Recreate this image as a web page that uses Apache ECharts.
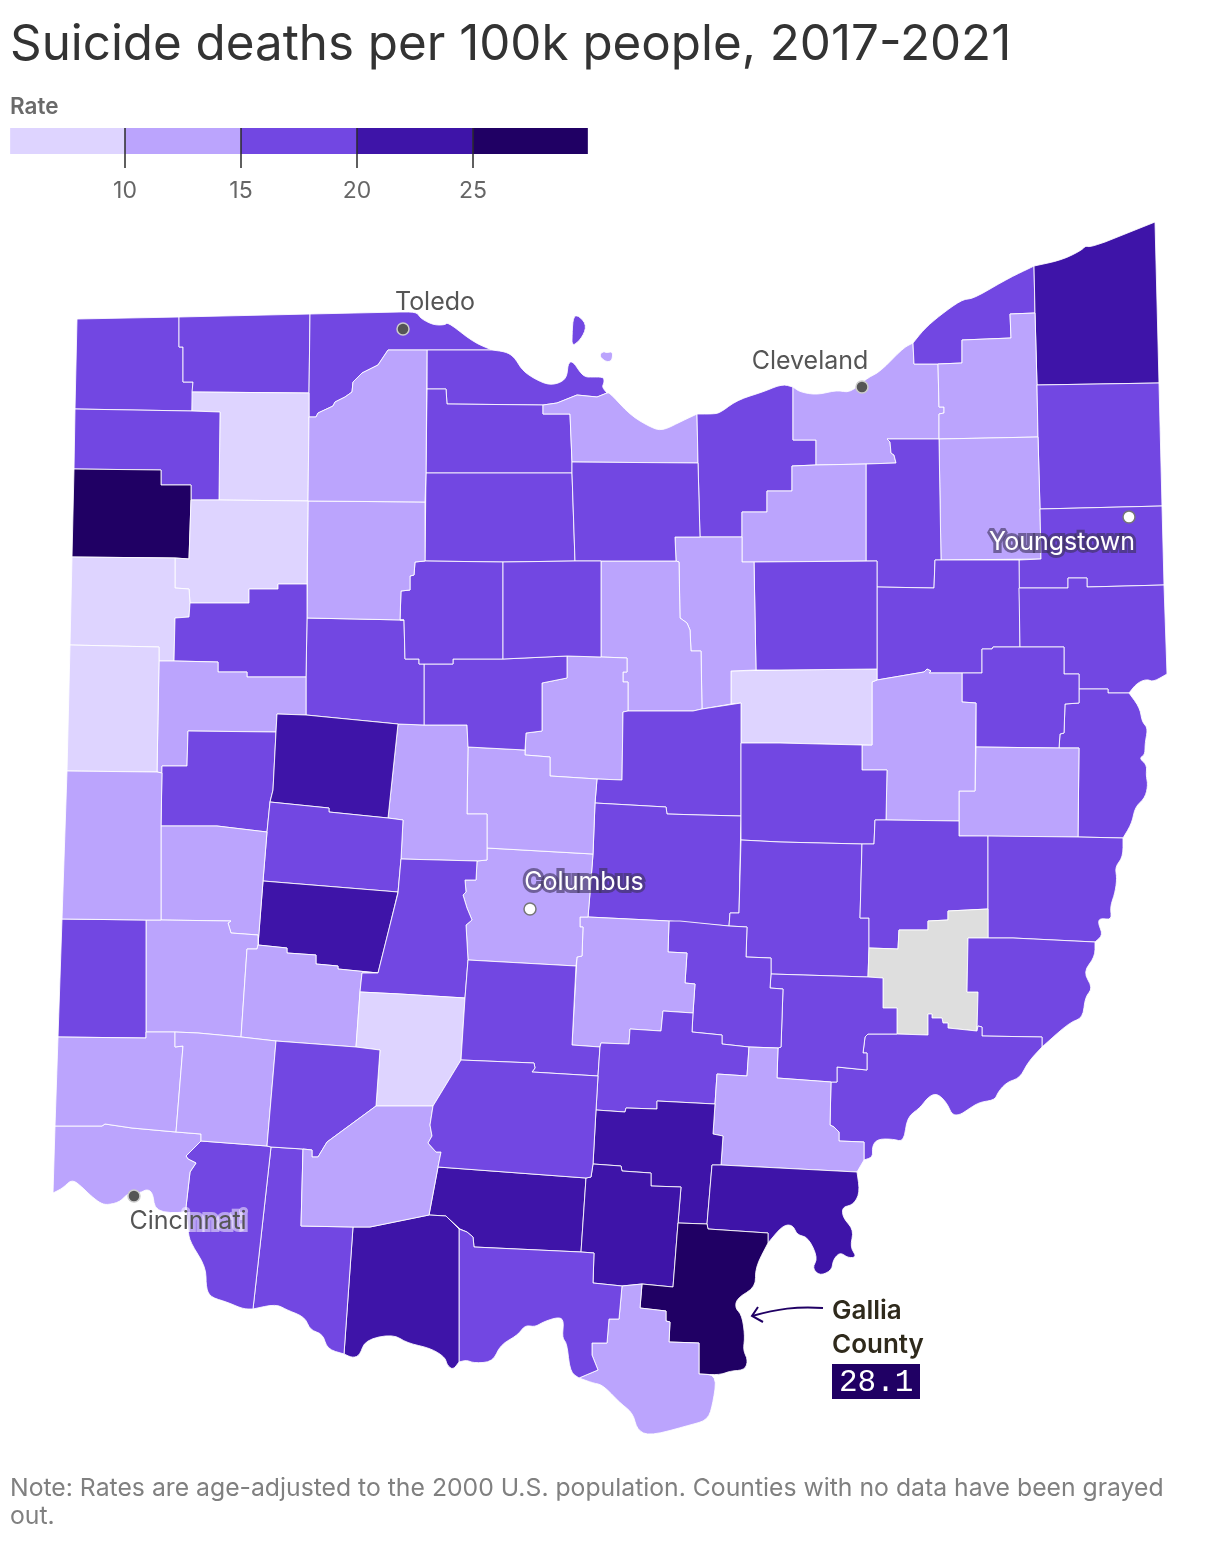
<!DOCTYPE html>
<html>
<head>
<meta charset="utf-8">
<title>Suicide deaths per 100k people, 2017-2021</title>
<script src="https://cdn.jsdelivr.net/npm/echarts@6/dist/echarts.min.js"></script>
<style>
  html, body { margin: 0; padding: 0; background: #fff; }
  #chart { width: 1220px; height: 1552px; }
</style>
</head>
<body>
<div id="chart"></div>
<script>
// rates by county, read off the colour bins (Noble has no data)
const countyNames = [
  'Williams', 'Fulton', 'Lucas', 'Ottawa', 'Sandusky', 'Erie', 'Lorain', 'Cuyahoga', 'Lake', 'Ashtabula',
  'Geauga', 'Trumbull', 'Portage', 'Mahoning', 'Summit', 'Medina', 'Stark', 'Columbiana', 'Jefferson', 'Carroll',
  'Harrison', 'Tuscarawas', 'Holmes', 'Wayne', 'Ashland', 'Richland', 'Morrow', 'Knox', 'Licking', 'Coshocton',
  'Muskingum', 'Guernsey', 'Belmont', 'Noble', 'Monroe', 'Washington', 'Morgan', 'Perry', 'Fairfield', 'Franklin',
  'Delaware', 'Union', 'Marion', 'Hardin', 'Seneca', 'Huron', 'Wyandot', 'Crawford', 'Hancock', 'Henry',
  'Defiance', 'Paulding', 'Putnam', 'Van Wert', 'Allen', 'Auglaize', 'Mercer', 'Shelby', 'Logan', 'Champaign',
  'Clark', 'Miami', 'Montgomery', 'Preble', 'Darke', 'Greene', 'Madison', 'Fayette', 'Pickaway', 'Hocking',
  'Athens', 'Vinton', 'Pike', 'Jackson', 'Meigs', 'Gallia', 'Lawrence', 'Scioto', 'Adams', 'Brown',
  'Clermont', 'Hamilton', 'Butler', 'Warren', 'Clinton', 'Highland', 'Wood', 'Ross'
];
const countyRates = [
  17, 17, 17, 17, 17, 13, 17, 13, 17, 22,
  13, 17, 13, 17, 17, 13, 17, 17, 17, 17,
  13, 13, 8, 17, 13, 13, 13, 17, 17, 17,
  17, 17, 17, null, 17, 17, 17, 17, 13, 13,
  13, 13, 17, 17, 17, 17, 17, 17, 13, 8,
  17, 27, 8, 8, 17, 13, 8, 17, 22, 17,
  22, 13, 13, 17, 13, 13, 17, 8, 17, 17,
  13, 22, 22, 22, 22, 28.1, 13, 17, 22, 17,
  17, 13, 13, 13, 17, 13, 13, 17
];

// county outlines (x,y in page pixels)
const countyShapes = {
  Williams: ['77,319 179,317 179,347 183,347 183,382 193,382 192,411 75,409'],
  Fulton: ['179,317 310,314 309,393 192,392 193,382 183,382 183,347 179,347'],
  Lucas: ['310,314 400,312 417,312 420,318 433,325 445,325 448,322 473,342 492,350 427,350 388,350 378,365 362,373 353,382 352,392 345,397 335,402 333,406 318,413 316,417 309,417 309,393'],
  Wood: ['309,417 316,417 318,413 333,406 335,402 345,397 352,392 353,382 362,373 378,365 388,350 427,350 426,473 425,502 308,501'],
  Ottawa: [
    '427,350 492,350 507,352 515,358 522,370 533,378 548,385 560,383 567,377 568,363 573,361 583,377 593,377 604,377 604,383 602,387 607,393 597,397 577,395 557,403 543,405 447,404 446,389 427,389',
    '573,317 578,315 587,325 582,338 572,347 572,337'
  ],
  Sandusky: ['427,389 446,389 447,404 543,405 543,414 570,414 572,462 572,473 426,473'],
  Erie: [
    '543,405 557,403 577,395 597,397 607,393 610,393 630,415 650,427 662,431 680,422 697,414 698,463 572,462 570,414 543,414',
    '599,356 603,351 607,353 613,351 612,361 606,362'
  ],
  Lorain: ['697,414 712,414 720,413 737,400 763,392 782,384 793,387 793,440 816,440 816,465 792,466 792,491 767,491 767,512 742,512 742,537 700,537 698,463'],
  Cuyahoga: ['793,387 800,392 817,395 837,390 850,393 867,378 880,372 903,348 913,343 914,364 938,364 939,407 944,407 944,413 939,414 939,439 887,439 890,442 891,453 894,455 896,463 866,464 816,465 816,440 793,440'],
  Lake: ['913,343 925,328 943,313 963,299 973,299 1007,279 1030,268 1034,266 1035,313 1010,314 1011,338 962,340 962,363 938,364 914,364'],
  Ashtabula: ['1034,266 1062,260 1082,250 1085,246 1090,247 1105,242 1155,222 1159,383 1037,385 1035,313'],
  Geauga: ['1010,314 1035,313 1037,385 1038,437 939,439 939,414 944,413 944,407 939,407 938,364 962,363 962,340 1011,338'],
  Trumbull: ['1037,385 1159,383 1162,506 1040,509 1038,437'],
  Portage: ['1038,437 1040,509 1041,559 941,560 939,439'],
  Mahoning: ['1040,509 1162,506 1164,585 1087,587 1087,578 1068,578 1068,588 1019,588 1019,560 1041,559'],
  Summit: ['887,439 939,439 941,560 935,560 934,588 877,587 877,561 866,561 866,464 896,463 894,455 891,453 890,442'],
  Medina: ['816,465 866,464 866,561 754,562 742,562 742,512 767,512 767,491 792,491 792,466'],
  Stark: ['877,587 934,588 935,560 1019,560 1020,647 993,647 992,649 982,649 982,673 962,673 929,673 931,671 927,669 924,672 877,680'],
  Columbiana: ['1019,588 1068,588 1068,578 1087,578 1087,587 1164,585 1167,674 1153,682 1147,679 1137,683 1129,693 1108,693 1108,689 1079,689 1079,674 1064,674 1064,647 1020,647'],
  Jefferson: ['1079,689 1108,689 1108,693 1129,693 1140,708 1142,722 1148,728 1145,743 1145,755 1139,758 1147,765 1146,775 1148,785 1145,798 1135,807 1132,823 1123,838 1078,837 1079,748 1059,748 1060,734 1064,733 1065,704 1079,703'],
  Carroll: ['982,649 992,649 993,647 1064,647 1064,674 1079,674 1079,703 1065,704 1064,733 1060,734 1059,748 976,747 976,703 962,702 962,673 982,673'],
  Harrison: ['976,747 1059,748 1079,748 1078,837 959,836 959,791 975,791'],
  Tuscarawas: ['872,682 877,680 924,672 927,669 931,671 929,673 962,673 962,702 976,703 975,791 959,791 959,821 886,820 887,770 862,770 862,745 872,745'],
  Holmes: ['731,671 780,670 877,669 877,680 872,682 872,745 780,743 741,743 741,703 731,704'],
  Wayne: ['754,562 877,561 877,669 780,670 756,670'],
  Ashland: ['675,537 742,537 742,562 754,562 756,670 731,671 731,704 702,709 701,651 691,651 690,630 687,623 680,618 679,562 676,561'],
  Richland: ['601,561 676,561 679,562 680,618 687,623 690,630 691,651 701,651 702,709 693,711 628,711 628,682 623,682 623,672 627,672 627,658 601,657'],
  Morrow: ['567,656 601,657 627,658 627,672 623,672 623,682 628,682 628,711 623,712 622,780 597,779 550,776 550,757 525,755 526,733 542,731 542,683 567,678'],
  Knox: ['623,712 628,711 693,711 702,709 741,703 741,743 741,816 700,815 667,814 666,807 595,803 597,779 622,780'],
  Licking: ['595,803 666,807 667,814 700,815 741,816 739,913 730,913 729,926 681,922 680,921 669,921 588,917 590,893 593,854'],
  Coshocton: ['741,743 780,743 862,745 862,770 887,770 886,820 875,820 874,844 862,844 780,842 741,840 741,816'],
  Muskingum: ['741,840 780,842 862,844 860,918 869,918 869,948 868,977 771,974 771,958 746,957 747,927 729,926 730,913 739,913'],
  Guernsey: ['875,820 886,820 959,821 959,836 988,836 988,909 948,911 948,920 928,921 928,930 899,930 898,949 869,948 869,918 860,918 862,844 874,844'],
  Belmont: ['988,836 1078,837 1123,838 1123,857 1115,867 1117,878 1115,893 1110,907 1112,920 1100,918 1098,923 1103,935 1095,942 1013,938 988,938'],
  Noble: ['869,948 898,949 899,930 928,930 928,921 948,920 948,911 988,909 988,938 968,938 967,992 978,992 977,1031 948,1028 948,1023 943,1023 942,1018 932,1018 932,1014 928,1014 928,1035 897,1034 897,1008 883,1008 883,978 868,977'],
  Monroe: ['968,938 988,938 1013,938 1095,942 1095,957 1083,972 1093,988 1085,997 1083,1018 1070,1022 1042,1047 1042,1037 982,1036 982,1027 978,1026 977,1031 978,992 967,992'],
  Washington: ['868,1034 897,1034 928,1035 928,1014 932,1014 932,1018 942,1018 943,1023 948,1023 948,1028 977,1031 978,1026 982,1027 982,1036 1042,1037 1042,1047 1028,1062 1020,1078 1007,1082 998,1092 995,1100 980,1102 970,1108 960,1115 952,1115 947,1103 937,1093 928,1097 920,1108 907,1117 904,1142 893,1139 877,1139 872,1147 873,1157 864,1160 864,1142 839,1141 839,1132 834,1127 830,1125 831,1082 837,1082 837,1067 867,1070 867,1053 863,1053 865,1037'],
  Morgan: ['771,974 868,977 883,978 883,1008 897,1008 897,1034 868,1034 865,1037 863,1053 867,1053 867,1070 837,1067 837,1082 831,1082 777,1078 778,1048 781,1047 783,989 770,988'],
  Perry: ['669,921 680,921 681,922 729,926 747,927 746,957 771,958 771,974 770,988 783,989 781,1047 778,1048 749,1047 722,1044 722,1035 692,1032 693,1013 695,984 685,983 687,953 668,952'],
  Fairfield: ['580,917 588,917 669,921 668,952 687,953 685,983 695,984 693,1013 663,1011 661,1031 630,1029 629,1044 601,1043 600,1047 572,1045 577,957 582,956 583,927 580,927'],
  Franklin: ['487,848 593,854 590,893 588,917 580,917 580,927 583,927 582,956 577,957 576,966 468,960 466,925 472,920 467,908 463,895 466,892 465,880 476,880 477,861 487,860'],
  Delaware: ['468,747 525,750 525,755 550,757 550,776 597,779 595,803 593,854 487,848 487,814 467,814'],
  Union: ['398,724 424,725 467,725 468,747 467,814 487,814 487,848 487,860 477,861 401,859 403,820 388,818'],
  Marion: ['424,664 453,664 453,659 503,659 567,656 567,678 542,683 542,731 526,733 525,750 468,747 467,725 424,725'],
  Hardin: ['307,618 404,620 405,659 419,659 419,664 424,664 424,725 398,724 306,715 306,677'],
  Seneca: ['426,473 572,473 575,561 503,562 425,561'],
  Huron: ['572,462 698,463 700,537 675,537 676,561 601,561 575,561 572,473'],
  Wyandot: ['415,562 425,561 503,562 503,659 453,659 453,664 419,664 419,659 405,659 404,620 400,620 401,591 410,590 410,576 414,575'],
  Crawford: ['503,562 575,561 601,561 601,657 567,656 503,659'],
  Hancock: ['308,501 425,502 425,561 415,562 414,575 410,576 410,590 401,591 400,620 404,620 307,618'],
  Henry: ['192,392 309,393 309,417 308,501 219,500 220,412 192,411'],
  Defiance: ['75,409 192,411 220,412 219,500 191,500 191,485 161,485 161,470 74,469'],
  Paulding: ['74,469 161,470 161,485 191,485 191,500 189,559 175,558 72,557'],
  Putnam: ['191,500 219,500 308,501 307,584 278,584 278,589 249,589 249,603 190,603 189,589 175,588 175,558 189,559'],
  'Van Wert': ['72,557 175,558 175,588 189,589 190,603 189,617 175,618 174,661 159,661 159,647 70,645'],
  Allen: ['175,618 189,617 190,603 249,603 249,589 278,589 278,584 307,584 307,618 306,677 247,677 247,672 218,672 218,662 174,661'],
  Auglaize: ['159,661 174,661 218,662 218,672 247,672 247,677 306,677 306,715 277,714 276,732 188,731 187,766 162,766 162,773 157,772'],
  Mercer: ['70,645 159,647 159,661 157,772 67,771'],
  Shelby: ['188,731 276,732 273,790 270,802 267,832 217,826 161,826 162,766 187,766'],
  Logan: ['277,714 306,715 398,724 388,818 329,812 329,808 270,802 273,790 276,732'],
  Champaign: ['270,802 329,808 329,812 388,818 403,820 401,859 398,892 263,881 267,832'],
  Clark: ['263,881 398,892 398,893 390,925 378,973 338,969 338,966 316,964 316,955 287,953 287,948 258,945'],
  Miami: ['161,826 217,826 267,832 263,881 258,945 258,935 231,933 228,923 231,921 161,920'],
  Montgomery: ['146,920 161,920 231,921 228,923 231,933 258,935 258,945 257,949 247,949 241,1037 198,1033 175,1032 146,1032'],
  Preble: ['62,919 146,920 146,1032 146,1038 58,1037'],
  Darke: ['67,771 157,772 162,773 161,826 161,920 146,920 62,919'],
  Greene: ['258,945 287,948 287,953 316,955 316,964 338,966 338,969 378,973 362,973 360,992 356,1047 276,1041 241,1037 247,949 257,949'],
  Madison: ['398,893 401,859 477,861 476,880 465,880 466,892 463,895 467,908 472,920 466,925 468,960 465,998 400,994 360,992 362,973 378,973 390,925'],
  Fayette: ['360,992 400,994 465,998 461,1060 433,1106 376,1106 380,1050 356,1047'],
  Pickaway: ['468,960 576,966 572,1045 600,1047 598,1076 532,1072 535,1068 534,1063 461,1060 465,998'],
  Hocking: ['600,1047 601,1043 629,1044 630,1029 661,1031 663,1011 693,1013 692,1032 722,1035 722,1044 749,1047 747,1076 717,1074 715,1104 657,1101 657,1109 626,1108 625,1112 596,1110 598,1076'],
  Athens: ['749,1047 778,1048 777,1078 831,1082 830,1125 834,1127 839,1132 839,1141 864,1142 864,1160 857,1172 721,1165 723,1136 713,1134 715,1104 717,1074 747,1076'],
  Vinton: ['596,1110 625,1112 626,1108 657,1109 657,1101 715,1104 713,1134 723,1136 721,1165 712,1165 707,1224 678,1223 681,1187 651,1186 651,1173 622,1171 621,1166 593,1164'],
  Pike: ['438,1167 586,1178 581,1252 474,1247 473,1237 467,1232 460,1229 448,1218 446,1216 429,1215'],
  Jackson: ['593,1164 621,1166 622,1171 651,1173 651,1186 681,1187 678,1223 673,1287 642,1284 622,1286 593,1283 594,1253 581,1252 586,1178 591,1177'],
  Meigs: ['712,1165 721,1165 857,1172 860,1193 853,1205 842,1207 843,1218 854,1230 850,1247 857,1257 848,1258 840,1252 833,1260 832,1270 820,1276 812,1268 818,1258 808,1237 797,1235 793,1225 783,1225 768,1243 768,1233 708,1229 707,1224'],
  Gallia: ['678,1223 707,1224 708,1229 768,1233 768,1243 755,1268 756,1287 737,1298 735,1308 742,1315 745,1337 743,1350 748,1360 745,1370 730,1371 720,1375 699,1374 699,1343 669,1342 670,1322 666,1321 666,1311 640,1308 642,1284 673,1287'],
  Lawrence: ['622,1286 642,1284 640,1308 666,1311 666,1321 670,1322 669,1342 699,1343 699,1374 717,1375 713,1403 708,1420 690,1425 650,1436 637,1430 633,1413 620,1403 603,1385 593,1383 579,1378 598,1370 592,1355 592,1343 607,1343 609,1319 619,1319'],
  Scioto: ['459,1229 467,1232 473,1237 474,1247 581,1252 594,1253 593,1283 622,1286 619,1319 609,1319 607,1343 592,1343 592,1355 598,1370 579,1378 570,1372 567,1343 562,1338 564,1320 558,1317 543,1322 535,1327 525,1325 518,1335 500,1345 493,1362 473,1363 467,1360 459,1362'],
  Adams: ['353,1227 370,1227 429,1215 446,1216 448,1218 459,1229 459,1362 453,1370 447,1365 445,1357 430,1348 407,1343 393,1334 365,1340 360,1355 353,1358 344,1354'],
  Brown: ['271,1147 303,1149 301,1226 353,1227 344,1354 327,1349 323,1334 310,1330 305,1317 287,1310 276,1304 253,1309'],
  Clermont: ['201,1141 267,1146 271,1147 253,1309 243,1309 227,1302 210,1297 206,1287 206,1267 190,1242 188,1230 186,1207 190,1172 196,1163 188,1159 186,1156'],
  Hamilton: ['55,1126 102,1126 105,1124 132,1128 176,1132 201,1134 201,1141 186,1156 188,1159 196,1163 190,1172 186,1207 186,1213 155,1212 153,1193 147,1189 140,1193 128,1193 120,1202 107,1205 100,1203 90,1195 82,1187 72,1179 63,1188 53,1193'],
  Butler: ['58,1037 146,1038 146,1032 175,1032 175,1047 183,1046 176,1132 132,1128 105,1124 102,1126 55,1126'],
  Warren: ['175,1032 198,1033 241,1037 276,1041 267,1146 201,1141 201,1134 176,1132 183,1046 175,1047'],
  Clinton: ['276,1041 356,1047 380,1050 376,1106 327,1142 318,1157 312,1157 312,1150 303,1149 271,1147 267,1146'],
  Highland: ['376,1106 433,1106 430,1125 432,1136 428,1143 436,1152 441,1152 438,1167 429,1215 370,1227 353,1227 301,1226 303,1149 312,1150 312,1157 318,1157 327,1142'],
  Ross: ['461,1060 534,1063 535,1068 532,1072 598,1076 596,1110 593,1164 591,1177 586,1178 438,1167 441,1152 436,1152 428,1143 432,1136 430,1125 433,1106']
};

// counties on the lake or the river: their open shoreline gets rounded below
const shoreCounties = [
  'Lucas', 'Ottawa', 'Erie', 'Lorain', 'Cuyahoga', 'Lake', 'Ashtabula', 'Columbiana', 'Jefferson', 'Belmont',
  'Monroe', 'Washington', 'Athens', 'Meigs', 'Gallia', 'Lawrence', 'Scioto', 'Adams', 'Brown', 'Clermont', 'Hamilton'
];

const cityNames = ['Toledo', 'Cleveland', 'Youngstown', 'Columbus', 'Cincinnati'];
const cityCoords = [[403, 329], [862, 387], [1129, 517], [530, 909], [134, 1196]];

// colour key
const rateBins = [10, 15, 20, 25];
const rampStops = [5.05, 10, 15, 20, 25, 29.95];
const rampColors = ['#ded4ff', '#bba4fd', '#7247e2', '#3e14a8', '#200064'];

function ringToCoords(ring) {
  return ring.split(' ').map(function (pair) {
    return pair.split(',').map(Number);
  });
}

// how many outlines each vertex is used in; a vertex used once is not on a county border
const vertexUse = {};
countyNames.forEach(function (name) {
  countyShapes[name].forEach(function (ring) {
    ring.split(' ').forEach(function (key) { vertexUse[key] = (vertexUse[key] || 0) + 1; });
  });
});

function edgeLength(a, b) {
  return Math.hypot(a[0] - b[0], a[1] - b[1]);
}

// round the unshared short-edged vertices with a quadratic curve between edge midpoints
function roundShore(points) {
  const out = [];
  const n = points.length;
  points.forEach(function (p, i) {
    const prev = points[(i + n - 1) % n];
    const next = points[(i + 1) % n];
    const open = vertexUse[p.join(',')] === 1 && edgeLength(p, prev) < 45 && edgeLength(p, next) < 45;
    if (!open) {
      out.push(p);
      return;
    }
    const m0 = [(prev[0] + p[0]) / 2, (prev[1] + p[1]) / 2];
    const m1 = [(next[0] + p[0]) / 2, (next[1] + p[1]) / 2];
    for (let t = 0; t <= 1; t += 0.25) {
      out.push([
        (1 - t) * (1 - t) * m0[0] + 2 * t * (1 - t) * p[0] + t * t * m1[0],
        (1 - t) * (1 - t) * m0[1] + 2 * t * (1 - t) * p[1] + t * t * m1[1]
      ]);
    }
  });
  out.push(out[0]);
  return out;
}

const features = countyNames.map(function (name) {
  const isShore = shoreCounties.indexOf(name) >= 0;
  return {
    type: 'Feature',
    properties: { name: name },
    geometry: {
      type: 'MultiPolygon',
      coordinates: countyShapes[name].map(function (ring) {
        const points = ringToCoords(ring);
        return [isShore ? roundShore(points) : points];
      })
    }
  };
});
echarts.registerMap('ohio', { type: 'FeatureCollection', features: features });

const chart = echarts.init(document.getElementById('chart'), null, { renderer: 'canvas' });
const fontFamily = 'Inter, "Noto Sans", sans-serif';
const pagePixels = { project: function (p) { return p; }, unproject: function (p) { return p; } };

// label placement relative to each city's dot
const cityLabels = {
  Toledo: { offset: [32, -27], color: '#555555' },
  Cleveland: { offset: [-52, -26], color: '#555555' },
  Youngstown: { offset: [-67, 25], color: '#ffffff', textBorderColor: 'rgba(60,50,90,0.6)', textBorderWidth: 6 },
  Columbus: { offset: [54, -27], color: '#ffffff', textBorderColor: 'rgba(60,50,90,0.6)', textBorderWidth: 6 },
  Cincinnati: { offset: [54, 25], color: '#555555', textBorderColor: 'rgba(255,255,255,0.5)', textBorderWidth: 6 }
};
const lightDots = ['Youngstown', 'Columbus'];

const galliaRate = countyRates[countyNames.indexOf('Gallia')];

chart.setOption({
  animation: false,
  title: [
    {
      text: 'Suicide deaths per 100k people, 2017-2021',
      left: 10, top: 21, padding: 0,
      textStyle: { fontFamily: fontFamily, fontSize: 49.3, fontWeight: 400, color: '#333333' }
    },
    {
      text: 'Rate',
      left: 10, top: 96, padding: 0,
      textStyle: { fontFamily: fontFamily, fontSize: 22.5, fontWeight: 600, color: '#6a6a6a' }
    },
    {
      text: 'Note: Rates are age-adjusted to the 2000 U.S. population. Counties with no data have been grayed\nout.',
      left: 10, top: 1475, padding: 0,
      textStyle: { fontFamily: fontFamily, fontSize: 24.75, fontWeight: 400, color: '#808080', lineHeight: 28 }
    }
  ],
  grid: { left: 9, width: 580, top: 128, height: 40 },
  xAxis: {
    type: 'value', min: 5, max: 30, interval: 5, z: 10, position: 'bottom',
    splitLine: { show: false },
    axisLine: { show: false, onZero: false },
    axisTick: { show: true, inside: true, length: 40, customValues: rateBins, lineStyle: { color: '#2b2b2b', width: 1.5 } },
    axisLabel: { margin: 12, customValues: rateBins, fontFamily: fontFamily, fontSize: 23, color: '#666666' }
  },
  yAxis: { type: 'value', min: 0, max: 40, inverse: true, show: false },
  geo: {
    map: 'ohio',
    projection: pagePixels,
    boundingCoords: [[0, 0], [1220, 1552]],
    left: 0, top: 0, width: 1220, height: 1552,
    roam: false,
    silent: true,
    label: { show: false },
    itemStyle: { areaColor: '#dedede', borderColor: 'rgba(255,255,255,0.85)', borderWidth: 1 },
    emphasis: { disabled: true },
    select: { disabled: true }
  },
  visualMap: {
    type: 'piecewise',
    show: false,
    seriesIndex: 0,
    pieces: [
      { lt: 10, color: rampColors[0] },
      { gte: 10, lt: 15, color: rampColors[1] },
      { gte: 15, lt: 20, color: rampColors[2] },
      { gte: 20, lt: 25, color: rampColors[3] },
      { gte: 25, color: rampColors[4] }
    ]
  },
  series: [
    {
      type: 'map',
      geoIndex: 0,
      silent: true,
      data: countyNames.map(function (name, i) { return { name: name, value: countyRates[i] }; })
    },
    {
      type: 'scatter',
      coordinateSystem: 'geo',
      geoIndex: 0,
      silent: true,
      symbolSize: 12,
      z: 5,
      data: cityNames.map(function (name, i) {
        const l = cityLabels[name];
        const lightDot = lightDots.indexOf(name) >= 0;
        return {
          name: name,
          value: cityCoords[i],
          itemStyle: {
            opacity: 1,
            color: lightDot ? '#ffffff' : '#555555',
            borderColor: lightDot ? '#777777' : '#cccccc',
            borderWidth: 1.5
          },
          label: {
            show: true,
            position: 'inside',
            formatter: name,
            offset: l.offset,
            fontFamily: fontFamily,
            fontSize: 25,
            color: l.color,
            textBorderColor: l.textBorderColor || 'transparent',
            textBorderWidth: l.textBorderWidth || 0
          }
        };
      })
    },
    {
      type: 'custom',
      silent: true,
      coordinateSystem: 'cartesian2d',
      data: rampColors.map(function (c, i) { return [rampStops[i], rampStops[i + 1], i]; }),
      encode: { x: [0, 1] },
      renderItem: function (params, api) {
        const a = api.coord([api.value(0), 0]);
        const b = api.coord([api.value(1), 26]);
        return {
          type: 'rect',
          shape: { x: a[0], y: a[1], width: b[0] - a[0], height: b[1] - a[1] },
          style: { fill: rampColors[api.value(2)] }
        };
      }
    }
  ],
  graphic: [
    {
      type: 'text', x: 832, y: 1298, silent: true,
      style: { text: 'Gallia', font: '600 26px ' + fontFamily, fill: '#2f2a1c' }
    },
    {
      type: 'text', x: 832, y: 1332, silent: true,
      style: { text: 'County', font: '600 26px ' + fontFamily, fill: '#2f2a1c' }
    },
    {
      type: 'rect', silent: true,
      shape: { x: 832, y: 1364, width: 88, height: 35 },
      style: { fill: '#200064' }
    },
    {
      type: 'text', x: 839, y: 1367, silent: true, z: 10,
      style: { text: String(galliaRate), font: '31px "Liberation Mono", monospace', fill: '#ffffff' }
    },
    {
      type: 'bezierCurve', silent: true,
      shape: { x1: 823, y1: 1308, cpx1: 797, cpy1: 1306, cpx2: 777, cpy2: 1309, x2: 752, y2: 1316 },
      style: { stroke: '#200064', lineWidth: 2, fill: 'none' }
    },
    {
      type: 'polyline', silent: true,
      shape: { points: [[758, 1307], [752, 1316], [763, 1322]] },
      style: { stroke: '#200064', lineWidth: 2, fill: 'none' }
    }
  ]
});
</script>
</body>
</html>
